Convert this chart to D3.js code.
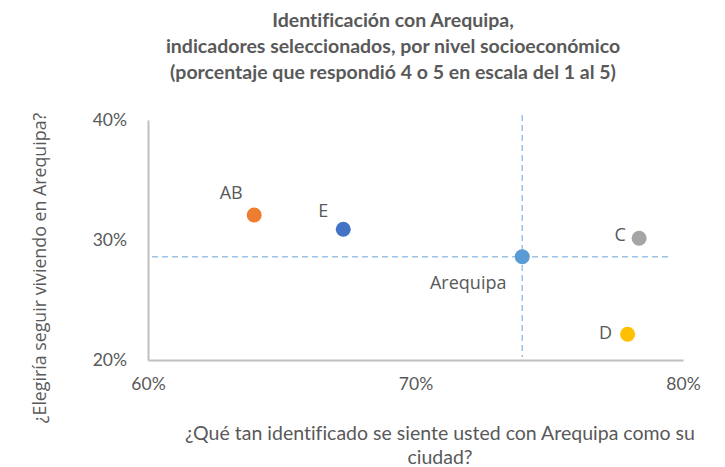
<!DOCTYPE html>
<html>
<head>
<meta charset="utf-8">
<script src="https://cdn.jsdelivr.net/npm/d3@7"></script>
<style>
  body { margin: 0; background: #fff; }
  text { font-family: "Open Sans", sans-serif; fill: #595959; font-variant-ligatures: none; }
</style>
</head>
<body>
<div id="chart"></div>
<script>
// data (percent)
var groups = ["AB", "E", "Arequipa", "C", "D"];
var identificado = [63.97, 67.30, 73.99, 78.36, 77.93];
var elegiria = [32.08, 30.89, 28.61, 30.14, 22.14];
var xTicks = [60, 70, 80];
var yTicks = [20, 30, 40];
var titleLines = [
    "Identificación con Arequipa,",
    "indicadores seleccionados, por nivel socioeconómico",
    "(porcentaje que respondió 4 o 5 en escala del 1 al 5)"
];
var xTitleLines = [
    "¿Qué tan identificado se siente usted con Arequipa como su",
    "ciudad?"
];

var colors = { "AB": "#ED7D31", "E": "#4472C4", "Arequipa": "#5B9BD5", "C": "#A5A5A5", "D": "#FFC000" };
// label offsets relative to the dot
var labelOff = { "AB": [-23, -22], "E": [-20, -19], "Arequipa": [-54, 26], "C": [-19, -4], "D": [-22, -2] };

var margin = { top: 120, bottom: 107, left: 148, right: 42 };
var width = 725 - margin.left - margin.right,
    height = 467 - margin.top - margin.bottom;

var svg = d3.select("#chart")
    .append("svg")
        .attr("width", 725)
        .attr("height", 467);

var g = svg.append("g")
    .attr("transform", "translate(" + margin.left + "," + margin.top + ")");

var x = d3.scaleLinear().domain([60, 80]).range([0, width]);
var y = d3.scaleLinear().domain([20, 40]).range([height, 0]);

var data = groups.map(function(d, i) {
    return { name: d, x: identificado[i], y: elegiria[i] };
});
var ref = data[2];

// title
svg.append("g").selectAll("text")
    .data(titleLines)
    .enter().append("text")
    .attr("x", 393)
    .attr("y", function(d, i) { return 27 + i * 26; })
    .attr("text-anchor", "middle")
    .style("font-family", "Lato, sans-serif")
    .style("font-weight", "bold")
    .style("font-size", "19.5px")
    .text(function(d) { return d; });

// axes
var xAxis = d3.axisBottom(x).tickValues(xTicks).tickSize(0).tickPadding(18)
    .tickFormat(function(d) { return d + "%"; });
var yAxis = d3.axisLeft(y).tickValues(yTicks).tickSize(0).tickPadding(21)
    .tickFormat(function(d) { return d + "%"; });

var gx = g.append("g")
    .attr("transform", "translate(0," + height + ")")
    .call(xAxis);
var gy = g.append("g").call(yAxis);

[gx, gy].forEach(function(a) {
    a.select(".domain").attr("stroke", "#BFBFBF").attr("stroke-width", 2);
    a.selectAll("text")
        .style("font-family", "Lato, sans-serif")
        .style("font-size", "17.5px")
        .attr("fill", "#595959");
});

// dashed reference lines through Arequipa
g.append("line")
    .attr("x1", x(60) + 4).attr("x2", x(80) - 11)
    .attr("y1", y(ref.y)).attr("y2", y(ref.y))
    .attr("stroke", "#9DC3E6").attr("stroke-width", 1.5)
    .attr("stroke-dasharray", "6,4");
g.append("line")
    .attr("x1", x(ref.x)).attr("x2", x(ref.x))
    .attr("y1", y(40) - 5).attr("y2", y(20) - 3)
    .attr("stroke", "#9DC3E6").attr("stroke-width", 1.5)
    .attr("stroke-dasharray", "6,4");

// points
g.append("g").selectAll("circle")
    .data(data)
    .enter().append("circle")
    .attr("cx", function(d) { return x(d.x); })
    .attr("cy", function(d) { return y(d.y); })
    .attr("r", 7.5)
    .attr("fill", function(d) { return colors[d.name]; });

g.append("g").selectAll("text")
    .data(data)
    .enter().append("text")
    .attr("x", function(d) { return x(d.x) + labelOff[d.name][0]; })
    .attr("y", function(d) { return y(d.y) + labelOff[d.name][1]; })
    .attr("text-anchor", "middle")
    .attr("dy", "0.35em")
    .style("font-size", "18px")
    .text(function(d) { return d.name; });

// axis titles
svg.append("g").selectAll("text")
    .data(xTitleLines)
    .enter().append("text")
    .attr("x", 440)
    .attr("y", function(d, i) { return 440 + i * 24; })
    .attr("text-anchor", "middle")
    .style("font-family", "Lato, sans-serif")
    .style("font-size", "19.5px")
    .text(function(d) { return d; });

svg.append("text")
    .attr("transform", "translate(46,268) rotate(-90)")
    .attr("text-anchor", "middle")
    .style("font-size", "17.8px")
    .text("¿Elegiría seguir viviendo en Arequipa?");
</script>
</body>
</html>
